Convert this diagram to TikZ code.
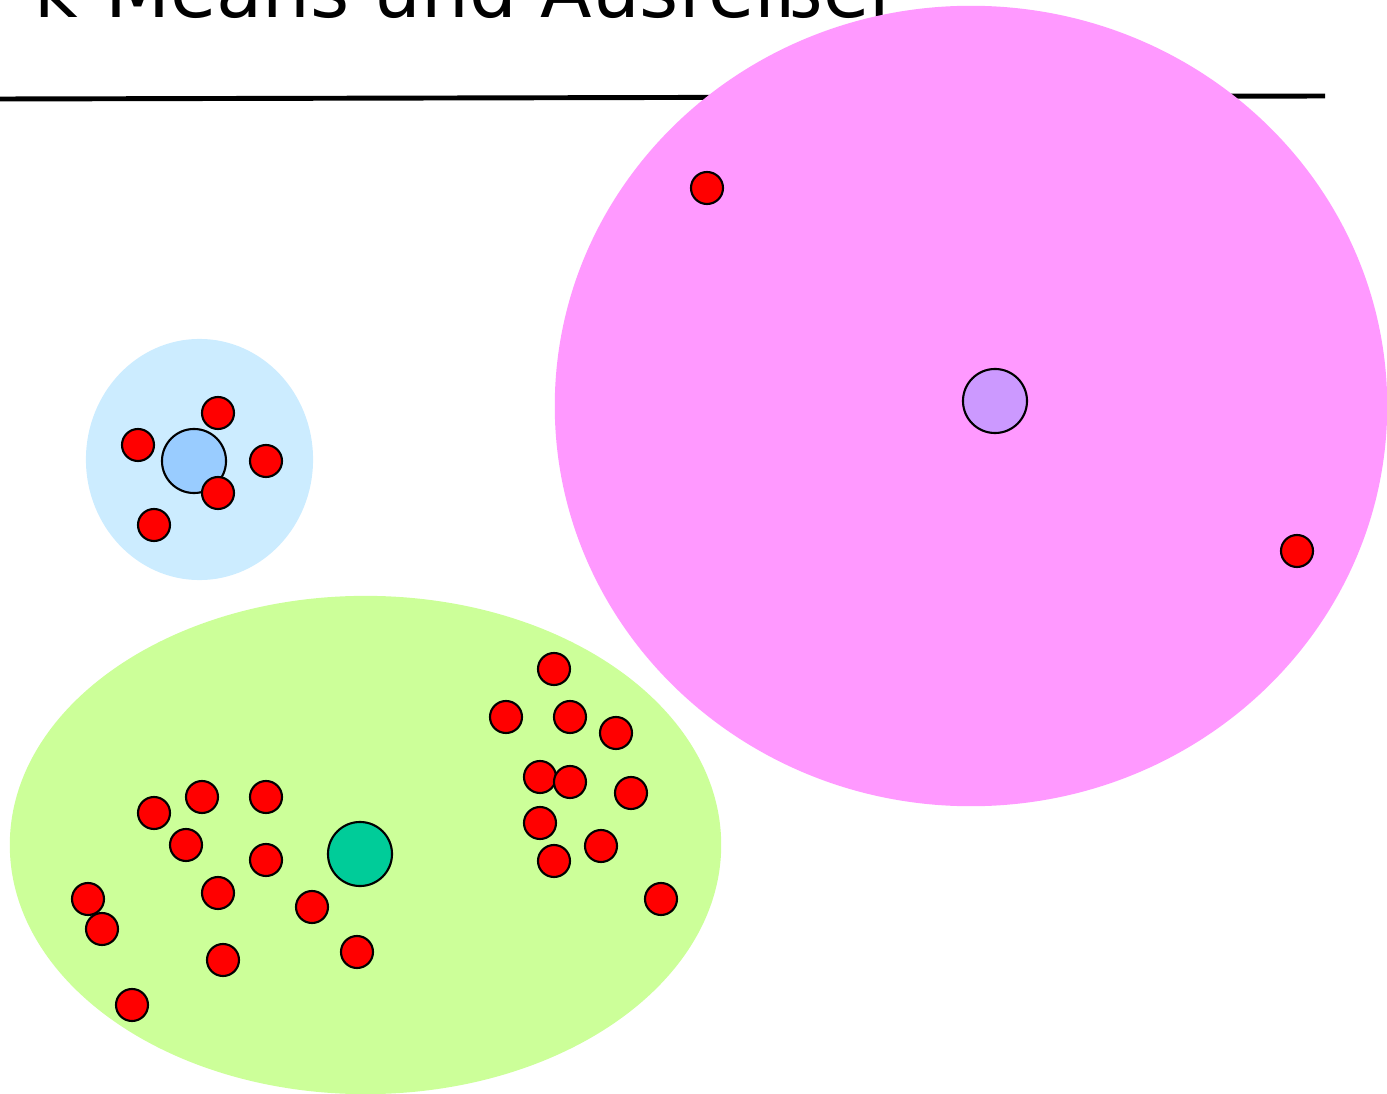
\documentclass[tikz,border=0pt]{standalone}
\usepackage{fontspec}
\setmainfont{DejaVu Sans}
\definecolor{OutlierPink}{RGB}{255, 153, 255}
\definecolor{OutlierLila}{RGB}{204, 153, 255}
\definecolor{SmallBlue}{RGB}{204, 236, 255}
\definecolor{SmallCenter}{RGB}{153, 204, 255}
\definecolor{BigGreen}{RGB}{204, 255, 153}
\definecolor{BigCenter}{RGB}{0, 204, 153}
\definecolor{PunktRot}{RGB}{255, 0, 0}
\usetikzlibrary{shapes.geometric}
\tikzset{
  cluster/.style={ellipse, fill=#1, draw=none, inner sep=0pt},
  zentrum/.style={circle, fill=#1, draw=black, line width=0.6pt,
                  minimum size=0.64cm, inner sep=0pt},
  punkt/.style={circle, fill=PunktRot, draw=black, line width=0.6pt,
                minimum size=0.32cm, inner sep=0pt},
}

\begin{document}
\begin{tikzpicture}[x=0.01cm, y=-0.01cm]
  \useasboundingbox (0,0) rectangle (1387,1094);

  %% TITLE
  \node[anchor=base west, inner sep=0pt, font=\fontsize{21.4}{25}\selectfont]
       (titel) at (34,18) {k-Means und Ausreißer};
  \draw[line width=1.4pt] (0,99) -- (1325,96);

  %% CLUSTER AREAS
  \node[cluster=OutlierPink, minimum width=8.32cm, minimum height=8cm]
       (pink) at (971,406) {};
  \node[cluster=SmallBlue, minimum width=2.27cm, minimum height=2.41cm]
       (blau) at (199.5,459.5) {};
  \node[cluster=BigGreen, minimum width=7.11cm, minimum height=4.98cm]
       (gruen) at (365.5,845) {};

  %% CENTROIDS
  \node[zentrum=SmallCenter] (zblau) at (194,461) {};
  \node[zentrum=OutlierLila] (zpink) at (995,401) {};
  \node[zentrum=BigCenter]   (zgruen) at (360,854) {};

  %% OUTLIERS
  \node[punkt] (a1) at (707,188) {};
  \node[punkt] (a2) at (1297,551) {};

  %% SMALL CLUSTER
  \foreach \x/\y [count=\i] in {218/413, 138/445, 266/461, 218/493, 154/525}
    \node[punkt] (b\i) at (\x,\y) {};

  %% BIG CLUSTER
  \foreach \x/\y [count=\i] in {554/669, 506/717, 570/717, 616/733, 540/777,
      570/782, 631/793, 540/823, 601/846, 554/861, 661/899, 154/813,
      202/797, 266/797, 186/845, 266/860, 218/893, 312/907, 88/899,
      102/929, 223/960, 357/952, 132/1005}
    \node[punkt] (g\i) at (\x,\y) {};

\end{tikzpicture}
\end{document}
